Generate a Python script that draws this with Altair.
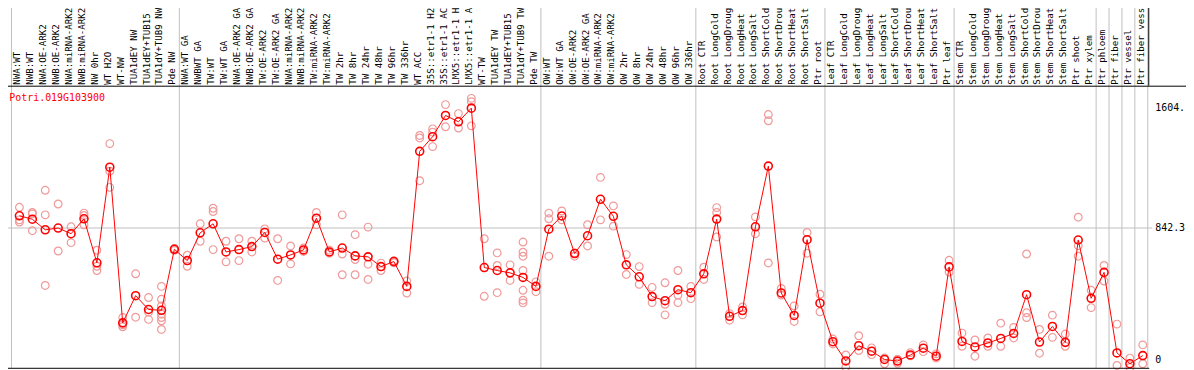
import altair as alt
import pandas as pd

gene = "Potri.019G103900"

labels = [
    "NWA:WT", "NWB:WT", "NWA:OE-ARK2", "NWB:OE-ARK2", "NWA:miRNA-ARK2", "NWB:miRNA-ARK2",
    "NW 0hr", "WT H2O", "WT-NW", "TUA1dEY NW", "TUA1dEY+TUB15 NW", "TUA1dY+TUB9 NW", "Pde NW",
    "NWA:WT GA", "NWBWT GA", "TW:WT", "TW:WT GA", "NWA:OE-ARK2 GA", "NWB:OE-ARK2 GA",
    "TW:OE-ARK2", "TW:OE-ARK2 GA", "NWA:miRNA-ARK2 GA", "NWB:miRNA-ARK2 GA", "TW:miRNA-ARK2",
    "TW:miRNA-ARK2", "TW 2hr", "TW 8hr", "TW 24hr", "TW 48hr", "TW 96hr", "TW 336hr", "WT ACC",
    "35S::etr1-1 H2O", "35S::etr1-1 ACC", "LMX5::etr1-1 H2O", "LMX5::etr1-1 ACC", "WT-TW",
    "TUA1dEY TW", "TUA1dEY+TUB15 TW", "TUA1dY+TUB9 TW", "Pde TW",
    "OW:WT", "OW:WT GA", "OW:OE-ARK2", "OW:OE-ARK2 GA", "OW:miRNA-ARK2", "OW:miRNA-ARK2",
    "OW 2hr", "OW 8hr", "OW 24hr", "OW 48hr", "OW 96hr", "OW 336hr",
    "Root CTR", "Root LongCold", "Root LongDrought", "Root LongHeat", "Root LongSalt",
    "Root ShortCold", "Root ShortDrought", "Root ShortHeat", "Root ShortSalt", "Ptr root",
    "Leaf CTR", "Leaf LongCold", "Leaf LongDrought", "Leaf LongHeat", "Leaf LongSalt",
    "Leaf ShortCold", "Leaf ShortDrought", "Leaf ShortHeat", "Leaf ShortSalt", "Ptr leaf",
    "Stem CTR", "Stem LongCold", "Stem LongDrought", "Stem LongHeat", "Stem LongSalt",
    "Stem ShortCold", "Stem ShortDrought", "Stem ShortHeat", "Stem ShortSalt", "Ptr shoot",
    "Ptr xylem", "Ptr phloem", "Ptr fiber", "Ptr vessel", "Ptr fiber vessel",
]

means = [
    920, 898, 831, 842, 806, 901, 621, 1229, 239, 412, 324, 319, 707,
    635, 812, 869, 690, 705, 724, 814, 644, 671, 703, 905, 690, 715, 665, 659, 597, 629, 471,
    1330, 1423, 1558, 1518, 1604.6, 591, 572, 557, 528, 471,
    835, 919, 680, 793, 1025, 917, 608, 532, 406, 380, 450, 431,
    551, 899, 281, 317, 850, 1236, 429, 286, 768, 364,
    119, -3, 94, 59, 6, -4, 35, 78, 27, 595,
    121, 86, 111, 140, 172, 418, 117, 216, 115, 766, 395,
    560, 48, -21, 31,
]

replicates = [
    [974, 894, 880], [941, 932, 825], [1082, 926, 477], [995, 696], [850, 749],
    [937, 922, 863], [701, 599, 572], [1379, 1204, 1101], [273, 227, 214], [551, 275],
    [400, 307, 261], [471, 389, 347, 294, 273, 252, 197], [712, 700],
    [669, 599], [869, 758], [968, 947, 705], [758, 627], [774, 635], [758, 690],
    [837, 778], [774, 509], [728, 614], [715, 693], [941, 863], [701, 682],
    [926, 677, 545], [800, 642, 545], [848, 612, 515], [619, 572], [635, 621], [505, 429],
    [1431, 1415, 1143], [1473, 1452, 1360], [1627, 1486], [1570, 1478], [1667, 1646, 1492],
    [774, 408], [684, 604, 431], [608, 509], [753, 688, 663, 572, 446, 383, 366], [500, 437],
    [937, 901, 663], [951, 894], [684, 663], [863, 728], [1164, 894], [983, 854],
    [673, 547], [597, 484], [465, 368], [494, 357, 290], [572, 416, 368], [471, 393],
    [593, 515], [972, 941, 785], [298, 256], [340, 290], [913, 806], [1564, 1524, 620],
    [458, 416], [347, 248], [814, 682], [421, 309],
    [136, 105], [35, -42], [157, 63], [80, 37], [16, -21], [8, -18], [50, 29], [99, 56],
    [42, 15], [637, 562],
    [174, 90], [130, 27], [143, 90], [237, 90], [210, 143], [677, 303, 273], [197, 46],
    [288, 147], [168, 90], [911, 730, 663], [446, 336],
    [604, 505], [231, -32], [15, -45], [99, -21],
]

group_bounds = [0, 13, 41, 53, 63, 73, 84, 85, 86, 87, 88]
tick_values = [0, 842.3, 1604.6]
tick_labels = ["0", "842.3", "1604.6"]
grid_values = [842.3]

idx = list(range(len(labels)))
df_mean = pd.DataFrame({"idx": idx, "label": labels, "mean": means})
df_rep = pd.DataFrame(
    [{"idx": i, "value": v} for i, reps in enumerate(replicates) for v in reps]
)
df_sep = pd.DataFrame({"k": group_bounds})
df_tick = pd.DataFrame({"v": tick_values, "t": tick_labels})
df_grid = pd.DataFrame({"v": grid_values})
df_gene = pd.DataFrame({"g": [gene]})

W, H = 1186, 284
COL = 13
x0 = -11.5 / COL
xs = alt.Scale(domain=[x0, x0 + W / COL], nice=False, zero=False)
ys = alt.Scale(domain=[-46.7, 1747.3], nice=False, zero=False)
FONT = "DejaVu Sans Mono"
TOP = -85  # page top, relative to the plot area
ZW = "\u200b"  # invisible ellipsis for truncated texts

sep = (
    alt.Chart(df_sep)
    .transform_calculate(pos="datum.k - 8/13")
    .mark_rule(color="#c0c0c0", strokeWidth=1)
    .encode(x=alt.X("pos:Q", scale=xs, axis=None), y=alt.value(TOP), y2=alt.value(H))
)
head_border = (
    alt.Chart(df_sep)
    .transform_filter("datum.k == 88")
    .transform_calculate(pos="datum.k - 8/13 + 1/13")
    .mark_rule(color="black", strokeWidth=1)
    .encode(x=alt.X("pos:Q", scale=xs, axis=None), y=alt.value(TOP), y2=alt.value(0))
)
grid = (
    alt.Chart(df_grid)
    .mark_rule(color="#c0c0c0", strokeWidth=1)
    .encode(y=alt.Y("v:Q", scale=ys, axis=None), x=alt.value(-7), x2=alt.value(1152))
)
reps = (
    alt.Chart(df_rep)
    .mark_point(shape="circle", filled=False, size=60, color="#f09a9a", strokeWidth=1.2, opacity=1)
    .encode(x=alt.X("idx:Q", scale=xs, axis=None), y=alt.Y("value:Q", scale=ys, axis=None))
)
line = (
    alt.Chart(df_mean)
    .mark_line(color="#ff0000", strokeWidth=1)
    .encode(x=alt.X("idx:Q", scale=xs, axis=None), y=alt.Y("mean:Q", scale=ys, axis=None))
)
pts = (
    alt.Chart(df_mean)
    .mark_point(shape="circle", filled=False, size=64, color="#ff0000", strokeWidth=1.6, opacity=1)
    .encode(x=alt.X("idx:Q", scale=xs, axis=None), y=alt.Y("mean:Q", scale=ys, axis=None))
)
head_labels = (
    alt.Chart(df_mean)
    .mark_text(angle=270, align="left", baseline="middle", font=FONT, fontSize=9.2,
               color="black", dy=-2, limit=78, ellipsis=ZW)
    .encode(x=alt.X("idx:Q", scale=xs, axis=None), y=alt.value(-1), text="label:N")
)
ytext = (
    alt.Chart(df_tick)
    .mark_text(align="left", baseline="middle", font=FONT, fontSize=10, color="black",
               limit=31, ellipsis=ZW)
    .encode(y=alt.Y("v:Q", scale=ys, axis=None), x=alt.value(1155), text="t:N")
)
gene_text = (
    alt.Chart(df_gene)
    .mark_text(align="left", baseline="middle", font=FONT, fontSize=10, color="#ff0000")
    .encode(x=alt.value(1.3), y=alt.value(12.3), text="g:N")
)
top_line = alt.Chart(df_gene).mark_rule(color="black", strokeWidth=1).encode(
    x=alt.value(-8), x2=alt.value(W), y=alt.value(0.5)
)
bottom_line = alt.Chart(df_gene).mark_rule(color="black", strokeWidth=1).encode(
    x=alt.value(-8), x2=alt.value(1149), y=alt.value(H + 0.5)
)
left_line = alt.Chart(df_gene).mark_rule(color="black", strokeWidth=1).encode(
    x=alt.value(-6.5), y=alt.value(TOP), y2=alt.value(H + 1)
)

chart = (
    alt.layer(sep, head_border, grid, reps, line, pts, head_labels, ytext, gene_text,
              top_line, bottom_line, left_line)
    .properties(
        width=W,
        height=H,
        padding={"left": 0, "top": 77, "right": 0, "bottom": 1},
        autosize=alt.AutoSizeParams(type="none"),
        background="white",
    )
    .configure_view(stroke=None)
)

chart.save("out.html", embed_options={"renderer": "svg", "actions": False})
